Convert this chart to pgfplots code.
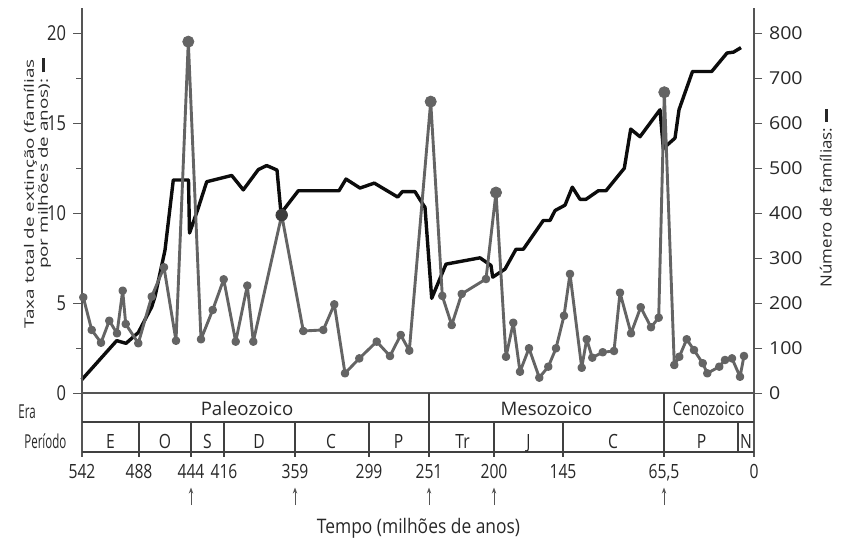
\documentclass[border=0pt]{standalone}
\usepackage{fontspec}
\setmainfont{Open Sans}
\newfontfamily\fA[FakeStretch=0.8]{Open Sans}
\newfontfamily\fB[FakeStretch=0.87]{Open Sans}
\newfontfamily\fC[FakeStretch=0.6]{Open Sans}
\newfontfamily\fD[FakeStretch=1.1]{Open Sans}
\newfontfamily\fE[FakeStretch=1.45]{Open Sans}
\usepackage{pgfplots}
\pgfplotsset{compat=1.18}
\usetikzlibrary{arrows.meta}
\definecolor{txt}{RGB}{40,40,40}
\definecolor{ext}{RGB}{100,100,100}
\definecolor{extdark}{RGB}{60,60,60}
\definecolor{fam}{RGB}{12,12,12}
\definecolor{axc}{RGB}{85,85,85}

\begin{document}
\begin{tikzpicture}
\pgfplotsset{every axis/.append style={scale only axis, width=336pt, height=192.65pt,
  xmin=82, xmax=754, clip=false}}

% numero de familias (eixo da direita)
\begin{axis}[axis y line*=right, axis x line=none, ymin=0, ymax=856,
  ytick={0,100,...,800}, tick align=outside, major tick length=4pt,
  y axis line style={draw=axc, line width=0.6pt}, ytick style={draw=axc, line width=0.6pt},
  yticklabel style={font=\fD\fontsize{8.9}{10}\selectfont, text=txt},
  /pgf/number format/assume math mode=true]
\addplot[fam, line width=1.7pt, line join=round, mark=none] table {
x y
81.7 30
116.7 117
126 111
138.3 135
151.7 192
155 215
165 318
173.3 474
188.5 474
189.5 356
198 410
206.7 470
231.7 484
243.3 452
258.3 497
266.7 506
277 496
281 400
298.3 450
339 450
346 476
360 456
374.3 467
397.7 436
402.3 448
415 448
420 430
425 413
431.7 211
446 287
480 301
491 284
492.7 258
505 276
516 320
523.3 320
543.3 384
550 384
555 406
565 418
572.3 458
580 431
586 431
598.3 450
606 450
624.3 500
630.7 587
640 570
660 630
663.3 544
675 567
679 630
692.5 715
711.7 715
727 756
733.5 758
741 768
};
\end{axis}

% taxa de extincao (eixo da esquerda)
\begin{axis}[name=ax, axis y line*=left, axis x line*=bottom, ymin=0, ymax=21.4,
  ytick={0,5,10,15,20}, minor ytick={2.5,7.5,12.5,17.5},
  tick align=outside, major tick length=4.5pt, minor tick length=2.8pt,
  y axis line style={draw=axc, line width=0.6pt}, x axis line style={draw=axc, line width=1pt},
  ytick style={draw=axc, line width=0.6pt}, xtick style={draw=none},
  yticklabel style={font=\fA\fontsize{10.3}{11}\selectfont, text=txt},
  xtick={82,139,191,224,295,369,429,494,563,664,754},
  xticklabels={542,488,444,416,359,299,251,200,145,{65,5},0},
  xticklabel style={font=\fA\fontsize{9.8}{11}\selectfont, text=txt, anchor=base, yshift=-37.85pt},
  /pgf/number format/assume math mode=true]
\addplot[ext, line width=1.45pt, line join=round, mark=*, mark size=1.4pt,
  mark options={fill=ext, draw=ext}] table {
x y
83.3 5.33
91.7 3.52
101 2.81
109.3 4.03
117 3.33
122.7 5.7
125.7 3.85
138.3 2.78
151.7 5.37
164 7.0
176 2.92
188.3 19.53
201 3.0
212.7 4.63
223.7 6.33
235.7 2.87
247.3 5.98
253.3 2.87
281.7 9.9
303.3 3.46
323.3 3.52
334.3 4.94
345 1.11
359.3 1.94
376.7 2.87
390 2.07
400.7 3.24
409.3 2.37
430.7 16.2
442.3 5.41
451.7 3.79
461.7 5.52
486 6.35
496 11.15
506 2.03
513.3 3.92
520 1.2
529 2.5
539.3 0.87
548.3 1.48
556 2.5
564 4.31
570 6.63
581.7 1.42
586.7 3.0
592.3 1.98
602.7 2.28
614 2.35
620 5.59
631 3.33
640.7 4.78
651 3.67
658.7 4.2
664.3 16.72
674.3 1.57
679.3 2.03
686.7 3.0
694 2.4
702.7 1.67
707.3 1.11
719.3 1.48
725 1.85
732 1.94
740 0.92
744 2.07
};
\addplot[only marks, mark=*, mark size=2.8pt, mark options={fill=ext, draw=ext}] table {
x y
188.3 19.53
430.7 16.2
496 11.15
664.3 16.72
};
\addplot[only marks, mark=*, mark size=2.9pt, mark options={fill=extdark, draw=extdark}] table {
x y
281.7 9.9
};
\end{axis}

% tabela de eras e periodos, rotulos
\begin{scope}[shift={(ax.south west)}, x=0.5pt, y=-0.5pt, shift={(-82,-393.3)}]
\draw[axc, line width=0.6pt] (82,393.3) -- (82,457) (754,393.3) -- (754,457);
\draw[black!75, line width=0.75pt] (82,422) -- (754,422) (82,452) -- (754,452);
\foreach \x in {429,664} \draw[black!75, line width=0.75pt] (\x,393.3) -- (\x,457);
\foreach \x in {139,191,224,295,369,494,563} \draw[black!75, line width=0.75pt] (\x,422) -- (\x,457);
\draw[black!75, line width=0.75pt] (738,422) -- (738,452);
\foreach \x in {191,295,429,494,664}
  \draw[axc, line width=0.45pt, -{Stealth[length=3pt,width=2.2pt]}] (\x,505) -- (\x,487.5);
\begin{scope}[every node/.style={text=txt, inner sep=0pt}]
\node[anchor=base, font=\fontsize{9.3}{11}\selectfont] at (247,415.7) {Paleozoico};
\node[anchor=base, font=\fontsize{9.3}{11}\selectfont] at (546.5,415.7) {Mesozoico};
\node[anchor=base, font=\fA\fontsize{9.3}{11}\selectfont] at (708.5,415.7) {Cenozoico};
\node[anchor=base west, font=\fC\fontsize{9.6}{11}\selectfont] at (18,418) {Era};
\node[anchor=base west, font=\fC\fontsize{9.6}{11}\selectfont] at (24,448) {Período};
\foreach \x/\t in {110.5/E,165/O,207.5/S,259/D,331/C,398.5/P,462.5/Tr,528.5/J,613/C,701.5/P,746/N}
  \node[anchor=base, font=\fA\fontsize{9.8}{11}\selectfont] at (\x,448) {\t};
\node[anchor=base, font=\fB\fontsize{10}{12}\selectfont] at (418.5,533.5) {Tempo (milhões de anos)};
\node[rotate=90, anchor=base, font=\fE\fontsize{6.5}{7}\selectfont] at (34,194) {Taxa total de extinção (famílias};
\node[rotate=90, anchor=base east, font=\fE\fontsize{6.5}{7}\selectfont] at (48,58) {por milhões de anos): \rule[1.3pt]{7pt}{1.6pt}};
\node[rotate=90, anchor=base, font=\fD\fontsize{7.7}{9}\selectfont] at (831.5,198) {Número de famílias: \rule[1.6pt]{6.5pt}{1.6pt}};
\end{scope}
\pgfresetboundingbox
\useasboundingbox (0,0) rectangle (845,541);
\end{scope}
\end{tikzpicture}
\end{document}
